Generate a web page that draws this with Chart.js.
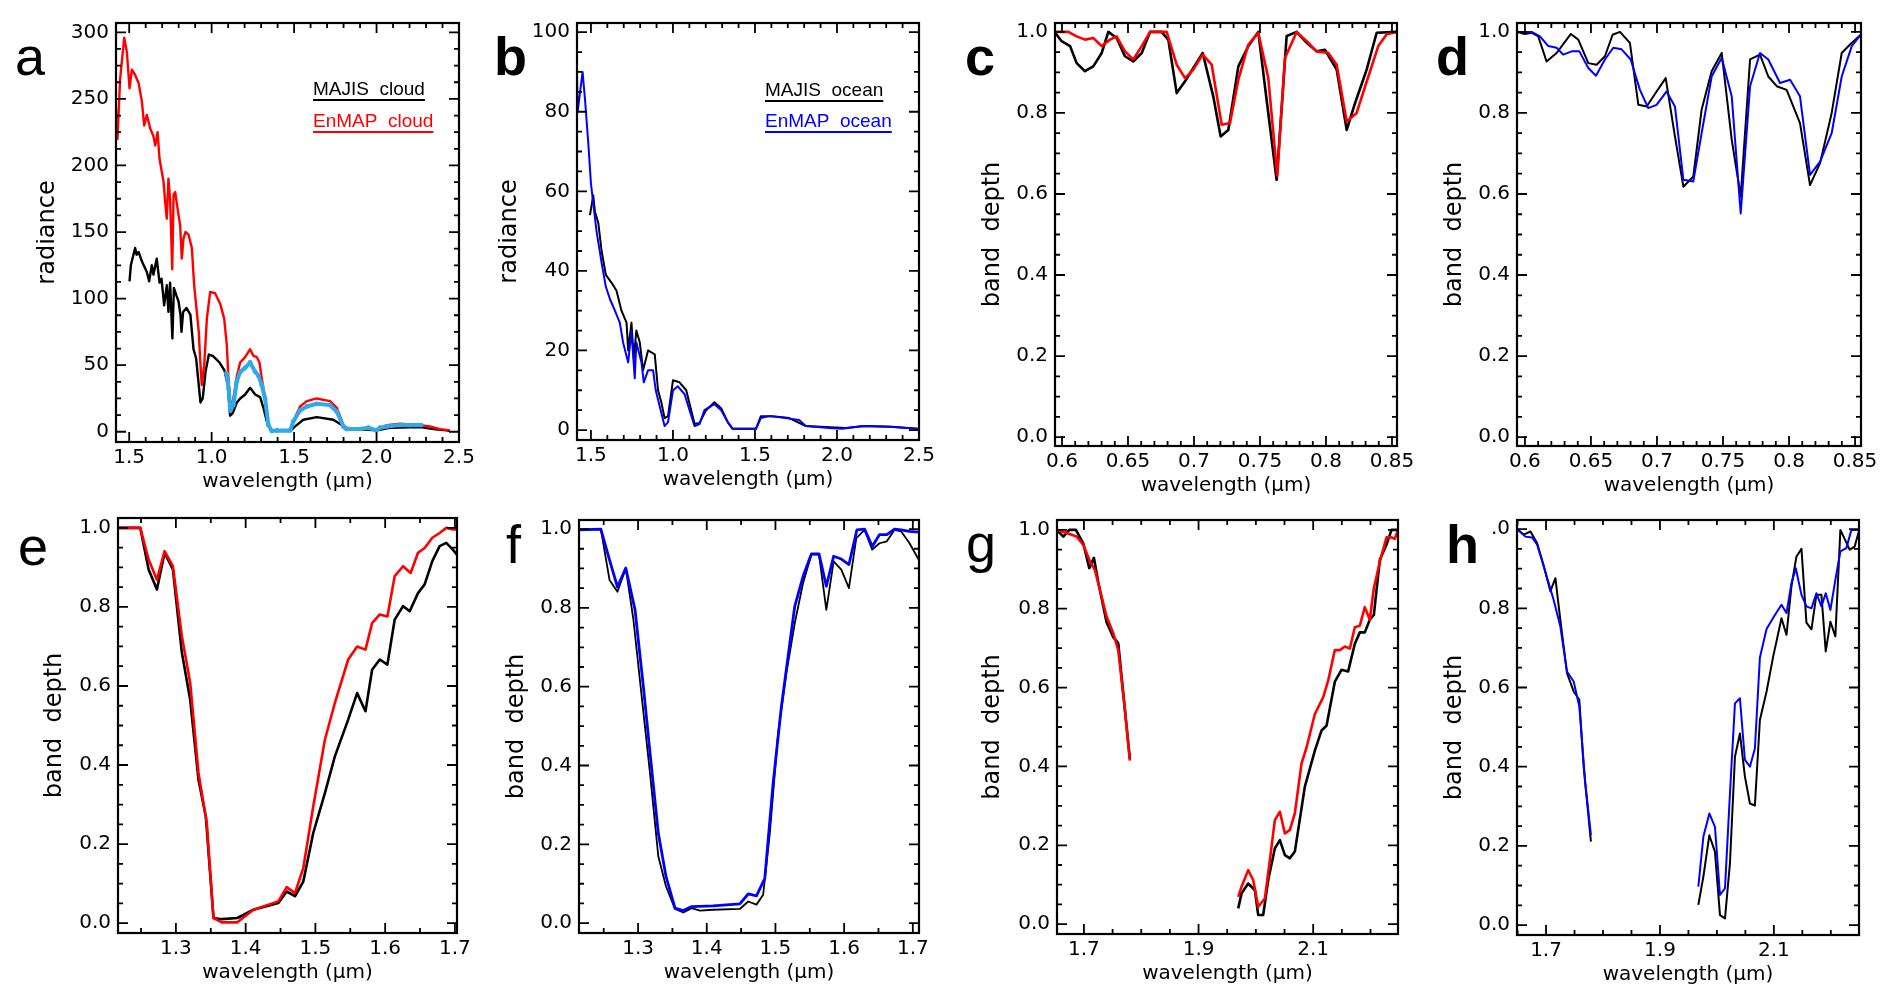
<!DOCTYPE html>
<html>
<head>
<meta charset="utf-8">
<script src="https://cdn.jsdelivr.net/npm/chart.js@4.4.1/dist/chart.umd.min.js"></script>
<style>
body { margin: 0; background: #fff; width: 1892px; height: 1003px; position: relative; overflow: hidden; }
canvas { position: absolute; }
.lbl { position: absolute; font-family: "Liberation Sans", Arial, sans-serif; font-size: 54px; line-height: 54px; color: #000; }
.bold { font-weight: bold; }
</style>
</head>
<body>
<div class="lbl" style="left:15px;top:29px">a</div>
<div class="lbl bold" style="left:494px;top:29px">b</div>
<div class="lbl bold" style="left:965px;top:29px">c</div>
<div class="lbl bold" style="left:1436px;top:29px">d</div>
<div class="lbl" style="left:18px;top:519px">e</div>
<div class="lbl" style="left:506px;top:517px">f</div>
<div class="lbl" style="left:966px;top:516px">g</div>
<div class="lbl bold" style="left:1446px;top:517px">h</div>
<script>
// ---- panel a : cloud radiance
var aMajisWl = [0.502,0.51,0.536,0.545,0.557,0.577,0.607,0.621,0.637,0.647,0.667,0.684,0.696,0.712,0.728,0.738,0.748,0.762,0.771,0.787,0.799,0.811,0.817,0.827,0.847,0.871,0.89,0.906,0.918,0.932,0.946,0.963,0.983,1.007,1.048,1.078,1.098,1.112,1.128,1.153,1.173,1.203,1.233,1.264,1.294,1.314,1.334,1.359,1.395,1.476,1.506,1.556,1.637,1.738,1.789,1.809,1.95,2.001,2.082,2.264,2.345,2.425,2.445];
var aMajisRad = [113,125,138,133,135,128,120,113,125,118,130,112,115,95,110,90,112,70,108,102,98,88,75,90,93,88,62,55,40,22,25,45,58,57,52,46,35,12,14,22,25,28,33,28,26,18,8,1,0.5,0.5,4,9,11,9,5,2,1.5,1,3,3.5,2,1,0.5];
var aEnmapWl = [0.419,0.429,0.445,0.47,0.486,0.502,0.516,0.536,0.557,0.577,0.591,0.607,0.627,0.647,0.658,0.672,0.684,0.698,0.708,0.72,0.728,0.738,0.748,0.761,0.769,0.779,0.793,0.809,0.819,0.829,0.841,0.86,0.88,0.894,0.91,0.922,0.93,0.94,0.955,0.971,0.991,1.021,1.052,1.076,1.092,1.104,1.112,1.132,1.153,1.173,1.203,1.233,1.254,1.274,1.29,1.304,1.324,1.344,1.359,1.395,1.476,1.496,1.536,1.577,1.637,1.718,1.759,1.799,1.819,1.9,2.001,2.062,2.142,2.264,2.324,2.385,2.445];
var aEnmapRad = [244,220,265,296,285,258,272,268,262,248,230,238,228,222,215,225,205,195,188,170,160,190,175,122,178,180,168,155,130,145,150,148,138,110,90,75,55,35,50,85,105,104,96,85,65,35,18,25,42,52,56,62,57,56,52,40,25,5,1,1,1,8,19,23,25,23,18,5,3,2,2,5,6,5,4,2,1];
var aSwirWl = [1.09,1.104,1.112,1.132,1.153,1.173,1.203,1.233,1.264,1.284,1.304,1.324,1.344,1.365,1.395,1.476,1.496,1.536,1.577,1.637,1.718,1.759,1.799,1.819,1.9,1.95,2.0,2.02,2.062,2.142,2.2,2.27];
var aSwirRad = [44,32,16,20,38,45,48,52,45,42,35,25,5,0.5,1,1,8,16,19,21,20,15,4,2,2,3,1,3,4,5,5,5];

// ---- panel b : ocean radiance
var bEnmapWl = [0.413,0.419,0.449,0.464,0.484,0.5,0.514,0.534,0.565,0.591,0.615,0.646,0.676,0.696,0.727,0.747,0.767,0.777,0.808,0.822,0.848,0.879,0.895,0.919,0.949,0.970,1.0,1.030,1.071,1.101,1.132,1.162,1.192,1.253,1.294,1.334,1.364,1.506,1.536,1.587,1.688,1.769,1.810,1.951,2.032,2.154,2.316,2.492];
var bEnmapRad = [94,80,90,83,72,62,57,50,42,36,33,30,27,22,17,25,13,22,17,12,15,15,10,6,1,2,10,11,9,5,1,1.5,5,6.5,5,2,0.3,0.3,3,3.5,3,2.5,1,0.5,0.3,1,0.8,0.3];
var bMajisWl = [0.494,0.514,0.524,0.545,0.565,0.591,0.626,0.656,0.686,0.717,0.727,0.747,0.761,0.777,0.798,0.818,0.848,0.889,0.909,0.929,0.949,0.970,1.0,1.040,1.081,1.105,1.132,1.162,1.202,1.253,1.294,1.334,1.364,1.506,1.536,1.607,1.709,1.810,2.053,2.174,2.336,2.492];
var bMajisRad = [54,59,55,52,45,39,37,35,30,27,20,27,18,25,22,15,20,19,10,7,3,3.5,12.5,12,10,6,1.5,1.8,5,7,5.5,2,0.3,0.3,3.5,3.5,3,1,0.5,1,0.8,0.3];

// ---- panel c : cloud band depth, 0.6-0.85 um
var cMajisWl = [0.5949,0.5997,0.6061,0.6111,0.6174,0.6237,0.6301,0.6351,0.6414,0.6477,0.654,0.6604,0.6667,0.6755,0.6806,0.6869,0.6932,0.6995,0.7066,0.7146,0.7202,0.726,0.7336,0.7412,0.7487,0.755,0.7626,0.7702,0.7778,0.7854,0.7929,0.7992,0.8081,0.8157,0.822,0.8308,0.8384,0.8535];
var cMajisBd = [0.998,0.977,0.965,0.923,0.903,0.915,0.948,1.0,0.985,0.94,0.927,0.948,1.0,1.0,0.98,0.849,0.878,0.911,0.948,0.841,0.742,0.758,0.915,0.965,1.0,0.833,0.635,0.99,1.0,0.973,0.952,0.956,0.907,0.758,0.824,0.907,0.998,1.0];
var cEnmapWl = [0.5949,0.6048,0.6111,0.6174,0.6237,0.6301,0.6364,0.6414,0.6477,0.654,0.6604,0.6667,0.6793,0.6869,0.6932,0.6995,0.7066,0.7134,0.721,0.7273,0.7336,0.7412,0.7487,0.7563,0.7601,0.7631,0.7689,0.7778,0.7854,0.7929,0.8018,0.8081,0.8157,0.8232,0.8321,0.8396,0.846,0.8535];
var cEnmapBd = [1.0,1.0,0.989,0.981,0.985,0.965,0.981,0.989,0.952,0.932,0.965,1.0,1.0,0.919,0.886,0.907,0.944,0.919,0.771,0.775,0.882,0.969,0.998,0.886,0.75,0.645,0.936,1.0,0.977,0.952,0.948,0.919,0.779,0.80,0.89,0.965,0.994,1.0];

// ---- panel d : ocean band depth, 0.6-0.85 um
var dMajisWl = [0.5944,0.6,0.6051,0.6101,0.6164,0.624,0.6348,0.6404,0.648,0.6543,0.6606,0.6664,0.672,0.6795,0.6859,0.6922,0.6997,0.7066,0.7136,0.72,0.7275,0.7338,0.7414,0.749,0.7566,0.7634,0.7705,0.778,0.7843,0.7907,0.7982,0.8083,0.8159,0.8235,0.8323,0.8399,0.8462,0.8543];
var dMajisBd = [1.0,0.995,0.998,0.989,0.927,0.948,0.995,0.981,0.923,0.919,0.94,0.993,1.0,0.973,0.82,0.816,0.853,0.886,0.742,0.618,0.643,0.808,0.903,0.948,0.734,0.594,0.932,0.944,0.89,0.866,0.857,0.775,0.622,0.676,0.80,0.948,0.969,0.993];
var dEnmapWl = [0.5944,0.6051,0.6114,0.6177,0.624,0.629,0.6354,0.6412,0.648,0.6538,0.6606,0.6669,0.6732,0.6801,0.6871,0.6934,0.6997,0.7073,0.7136,0.72,0.7275,0.7338,0.7414,0.749,0.7566,0.7634,0.7705,0.778,0.7843,0.7932,0.8008,0.8083,0.8159,0.8235,0.8323,0.8399,0.8475,0.8543];
var dEnmapBd = [1.0,1.0,0.989,0.965,0.961,0.944,0.952,0.952,0.911,0.892,0.932,0.961,0.957,0.932,0.857,0.812,0.82,0.853,0.816,0.635,0.631,0.75,0.89,0.936,0.841,0.552,0.866,0.948,0.932,0.874,0.882,0.841,0.647,0.68,0.75,0.89,0.965,0.993];

// ---- panel e : cloud band depth, 1.4 um
var eMajisWl = [1.2175,1.249,1.2609,1.2728,1.2838,1.2957,1.3086,1.3205,1.3324,1.3429,1.3539,1.3658,1.3882,1.4111,1.4468,1.4588,1.4707,1.4826,1.4969,1.5136,1.5279,1.547,1.5598,1.5718,1.5813,1.5923,1.6032,1.6137,1.6256,1.6352,1.6471,1.6566,1.6676,1.6781,1.6876,1.6971,1.7029];
var eMajisBd = [1.0,1.0,0.895,0.844,0.937,0.895,0.684,0.565,0.363,0.27,0.013,0.01,0.013,0.034,0.051,0.08,0.068,0.105,0.228,0.329,0.422,0.515,0.582,0.536,0.641,0.667,0.654,0.768,0.802,0.789,0.835,0.857,0.916,0.954,0.962,0.945,0.932];
var eEnmapWl = [1.2175,1.249,1.2609,1.2728,1.2838,1.2957,1.3086,1.3205,1.3324,1.3443,1.3539,1.3658,1.3882,1.4111,1.4468,1.4588,1.4707,1.4826,1.4969,1.5136,1.5279,1.547,1.5598,1.5718,1.5813,1.5923,1.6032,1.6137,1.6256,1.6366,1.6471,1.6566,1.6676,1.6781,1.6876,1.6971,1.7029];
var eEnmapBd = [1.0,1.0,0.92,0.869,0.941,0.903,0.726,0.608,0.38,0.253,0.013,0.002,0.002,0.034,0.055,0.091,0.076,0.139,0.295,0.464,0.557,0.667,0.70,0.692,0.759,0.781,0.776,0.878,0.903,0.886,0.937,0.949,0.975,0.987,1.0,0.996,0.996];

// ---- panel f : ocean band depth, 1.4 um
var fMajisWl = [1.2138,1.2458,1.2584,1.27,1.2821,1.2932,1.3053,1.3174,1.3295,1.3407,1.3538,1.3659,1.378,1.3901,1.4094,1.4482,1.4603,1.4724,1.4821,1.4918,1.5039,1.516,1.5281,1.5402,1.5523,1.5634,1.5741,1.5847,1.5959,1.607,1.6177,1.6298,1.6409,1.6516,1.6622,1.6734,1.6831,1.6952,1.7087];
var fMajisBd = [0.998,1.0,0.871,0.841,0.901,0.77,0.575,0.38,0.169,0.093,0.036,0.027,0.038,0.032,0.034,0.036,0.055,0.047,0.072,0.228,0.482,0.635,0.761,0.863,0.935,0.935,0.795,0.918,0.897,0.85,0.977,0.998,0.948,0.964,0.969,0.998,0.994,0.964,0.922];
var fEnmapWl = [1.2138,1.2458,1.2584,1.27,1.2821,1.2956,1.3077,1.3184,1.3295,1.3407,1.3538,1.3659,1.378,1.4094,1.4482,1.4603,1.4724,1.4845,1.4966,1.5087,1.5281,1.5402,1.5523,1.5634,1.5741,1.5847,1.5959,1.607,1.6186,1.6298,1.6409,1.6516,1.6622,1.6734,1.6831,1.6952,1.7087];
var fEnmapBd = [0.998,1.0,0.922,0.853,0.901,0.795,0.60,0.415,0.228,0.118,0.038,0.032,0.042,0.044,0.049,0.074,0.069,0.114,0.355,0.55,0.804,0.88,0.937,0.937,0.855,0.931,0.924,0.91,0.998,1.0,0.956,0.986,0.986,1.0,0.998,0.994,0.992];

// ---- panel g : cloud band depth, 1.9 um (null = no data)
var gMajisWl = [1.6523,1.664,1.6744,1.686,1.6988,1.7093,1.7174,1.725,1.7395,1.7512,1.7599,1.7686,1.7802,1.87,1.9692,1.975,1.9866,1.9983,2.0041,2.0128,2.0215,2.0331,2.0419,2.0506,2.0593,2.068,2.0855,2.1029,2.1145,2.1233,2.1378,2.1494,2.161,2.1727,2.1814,2.1901,2.1988,2.2058,2.2163,2.2279,2.2366,2.2471];
var gMajisBd = [1.0,0.983,1.0,1.0,0.966,0.903,0.929,0.867,0.766,0.728,0.712,0.585,0.419,null,0.04,0.078,0.103,0.086,0.023,0.023,0.112,0.192,0.213,0.175,0.167,0.184,0.349,0.44,0.491,0.503,0.615,0.645,0.641,0.711,0.74,0.74,0.772,0.784,0.924,0.962,1.0,1.0];
var gEnmapWl = [1.6523,1.6698,1.6872,1.6988,1.7105,1.7192,1.7279,1.7395,1.7512,1.7599,1.7698,1.7802,1.87,1.9692,1.975,1.9866,1.9953,2.0041,2.0157,2.0244,2.0331,2.0419,2.0506,2.0593,2.068,2.0797,2.0884,2.1029,2.1174,2.1262,2.1378,2.1465,2.1552,2.164,2.1727,2.1814,2.1901,2.1988,2.2058,2.2163,2.2279,2.2366,2.2424,2.2471];
var gEnmapBd = [1.0,0.992,0.983,0.962,0.92,0.898,0.848,0.78,0.738,0.694,0.567,0.415,null,0.069,0.095,0.137,0.112,0.044,0.065,0.162,0.264,0.285,0.23,0.239,0.281,0.408,0.448,0.533,0.575,0.618,0.695,0.695,0.704,0.699,0.753,0.757,0.804,0.772,0.852,0.919,0.981,0.981,0.977,0.996];

// ---- panel h : ocean band depth, 1.9 um
var hMajisWl = [1.6492,1.6609,1.6726,1.6842,1.6947,1.7076,1.7164,1.7251,1.7368,1.7485,1.7584,1.766,1.7788,1.87,1.9674,1.9762,1.9867,1.9966,2.0054,2.0142,2.0229,2.0317,2.0404,2.0492,2.058,2.0667,2.0755,2.0872,2.0988,2.1134,2.1222,2.131,2.1397,2.1485,2.1572,2.166,2.1747,2.1835,2.1911,2.1993,2.208,2.2168,2.2331,2.2419,2.2495];
var hMajisBd = [1.0,0.986,0.994,0.965,0.914,0.843,0.876,0.771,0.636,0.59,0.569,0.40,0.211,null,0.051,0.122,0.227,0.185,0.025,0.017,0.156,0.425,0.484,0.375,0.307,0.302,0.518,0.59,0.678,0.775,0.733,0.857,0.931,0.95,0.764,0.747,0.834,0.834,0.691,0.766,0.729,0.998,0.948,0.956,0.996];
var hEnmapWl = [1.6492,1.6638,1.6755,1.6842,1.6959,1.7134,1.7251,1.7368,1.7485,1.7584,1.7689,1.7788,1.87,1.9674,1.9762,1.9867,1.9966,2.0054,2.0142,2.0229,2.0317,2.0404,2.0492,2.058,2.0667,2.0755,2.0872,2.1018,2.1134,2.1222,2.131,2.1385,2.1485,2.1572,2.166,2.1747,2.1835,2.1911,2.1993,2.208,2.2168,2.2273,2.2361,2.2495];
var hEnmapBd = [1.0,0.981,0.979,0.961,0.906,0.821,0.754,0.64,0.615,0.552,0.358,0.227,null,0.097,0.223,0.282,0.248,0.076,0.093,0.332,0.56,0.573,0.417,0.40,0.446,0.676,0.748,0.783,0.809,0.788,0.864,0.901,0.834,0.805,0.80,0.838,0.805,0.838,0.796,0.872,0.944,0.952,0.998,0.998];

// ---- tick values / labels
var abTicks = [0.5, 1.0, 1.5, 2.0, 2.5];
var abTickLabels = ['1.5', '1.0', '1.5', '2.0', '2.5'];
var aYTicks = [0, 50, 100, 150, 200, 250, 300];
var aYLabels = ['0', '50', '100', '150', '200', '250', '300'];
var bYTicks = [0, 20, 40, 60, 80, 100];
var bYLabels = ['0', '20', '40', '60', '80', '100'];
var cdTicks = [0.6, 0.65, 0.7, 0.75, 0.8, 0.85];
var cdTickLabels = ['0.6', '0.65', '0.7', '0.75', '0.8', '0.85'];
var efTicks = [1.3, 1.4, 1.5, 1.6, 1.7];
var efTickLabels = ['1.3', '1.4', '1.5', '1.6', '1.7'];
var ghTicks = [1.7, 1.9, 2.1];
var ghTickLabels = ['1.7', '1.9', '2.1'];
var bdTicks = [0, 0.2, 0.4, 0.6, 0.8, 1.0];
var bdLabels = ['0.0', '0.2', '0.4', '0.6', '0.8', '1.0'];
var bdLabelsH = ['0.0', '0.2', '0.4', '0.6', '0.8', '.0'];

var RED = '#ff0000', BLUE = '#0000ff', BLACK = '#000000', CYAN = '#31a9e8';

function pts(xs, ys) {
    return xs.map(function (x, i) { return { x: x, y: ys[i] }; });
}

// IDL-style box with inward major/minor ticks, plus the underlined legend
var idlAxes = {
    id: 'idlAxes',
    afterDatasetsDraw: function (chart, args, opts) {
        var ctx = chart.ctx, ca = chart.chartArea;
        ctx.save();
        ctx.strokeStyle = '#000';
        ctx.lineWidth = 1.8;
        ctx.beginPath();
        [['x', opts.xMinor], ['y', opts.yMinor]].forEach(function (d) {
            var sc = chart.scales[d[0]], step = d[1];
            var majors = sc.ticks.map(function (t) { return t.value; });
            var marks = majors.map(function (v) { return [v, 10]; });
            for (var v = Math.ceil(sc.min / step - 1e-6) * step; v <= sc.max + 1e-9; v += step) {
                var isMajor = majors.some(function (m) { return Math.abs(m - v) < step * 0.05; });
                if (!isMajor) marks.push([v, 5]);
            }
            marks.forEach(function (m) {
                var p = sc.getPixelForValue(m[0]);
                if (d[0] === 'x') {
                    if (p < ca.left || p > ca.right) return;
                    ctx.moveTo(p, ca.bottom); ctx.lineTo(p, ca.bottom - m[1]);
                    ctx.moveTo(p, ca.top); ctx.lineTo(p, ca.top + m[1]);
                } else {
                    if (p < ca.top || p > ca.bottom) return;
                    ctx.moveTo(ca.left, p); ctx.lineTo(ca.left + m[1], p);
                    ctx.moveTo(ca.right, p); ctx.lineTo(ca.right - m[1], p);
                }
            });
        });
        ctx.stroke();
        ctx.lineWidth = 2.2;
        ctx.strokeRect(ca.left, ca.top, ca.right - ca.left, ca.bottom - ca.top);

        (opts.legend || []).forEach(function (it) {
            var x = it.x - opts.ox, y = it.y - opts.oy;
            ctx.font = '19px "Liberation Sans", Arial, sans-serif';
            ctx.fillStyle = it.color;
            ctx.textBaseline = 'alphabetic';
            ctx.fillText(it.text, x, y);
            var w = ctx.measureText(it.text).width;
            ctx.strokeStyle = it.color;
            ctx.lineWidth = 2;
            ctx.beginPath();
            ctx.moveTo(x, y + 5); ctx.lineTo(x + w, y + 5);
            ctx.stroke();
        });
        ctx.restore();
    }
};

var panels = [
    { frame: [116, 23, 459, 442], gap: 68, xr: [0.42, 2.5], yr: [-7.7, 307],
      xt: abTicks, xl: abTickLabels, xm: 0.1, yt: aYTicks, yl: aYLabels, ym: 12.5, ytitle: 'radiance',
      series: [[aSwirWl, aSwirRad, CYAN, 4, 2.4], [aEnmapWl, aEnmapRad, RED, 2.4], [aMajisWl, aMajisRad, BLACK, 2.4]],
      legend: [{ text: 'MAJIS  cloud', color: BLACK, x: 313, y: 95 }, { text: 'EnMAP  cloud', color: RED, x: 313, y: 127 }] },
    { frame: [577, 23, 919, 440], gap: 67, xr: [0.415, 2.5], yr: [-2.5, 102.3],
      xt: abTicks, xl: abTickLabels, xm: 0.1, yt: bYTicks, yl: bYLabels, ym: 5, ytitle: 'radiance',
      series: [[bEnmapWl, bEnmapRad, BLUE, 2], [bMajisWl, bMajisRad, BLACK, 2]],
      legend: [{ text: 'MAJIS  ocean', color: BLACK, x: 765, y: 96 }, { text: 'EnMAP  ocean', color: BLUE, x: 765, y: 127 }] },
    { frame: [1055, 23, 1397, 446], gap: 62, xr: [0.5947, 0.8538], yr: [-0.022, 1.022],
      xt: cdTicks, xl: cdTickLabels, xm: 0.01, yt: bdTicks, yl: bdLabels, ym: 0.05, ytitle: 'band  depth',
      series: [[cEnmapWl, cEnmapBd, RED, 2.6], [cMajisWl, cMajisBd, BLACK, 2.6]] },
    { frame: [1517, 23, 1861, 446], gap: 62, xr: [0.594, 0.8545], yr: [-0.022, 1.022],
      xt: cdTicks, xl: cdTickLabels, xm: 0.01, yt: bdTicks, yl: bdLabels, ym: 0.05, ytitle: 'band  depth',
      series: [[dEnmapWl, dEnmapBd, BLUE, 2], [dMajisWl, dMajisBd, BLACK, 2]] },
    { frame: [118, 518, 457, 933], gap: 63, xr: [1.217, 1.703], yr: [-0.025, 1.025],
      xt: efTicks, xl: efTickLabels, xm: 0.05, yt: bdTicks, yl: bdLabels, ym: 0.05, ytitle: 'band  depth',
      series: [[eEnmapWl, eEnmapBd, RED, 2.6], [eMajisWl, eMajisBd, BLACK, 2.6]] },
    { frame: [579, 520, 919, 933], gap: 62, xr: [1.214, 1.709], yr: [-0.025, 1.023],
      xt: efTicks, xl: efTickLabels, xm: 0.05, yt: bdTicks, yl: bdLabels, ym: 0.05, ytitle: 'band  depth',
      series: [[fEnmapWl, fEnmapBd, BLUE, 2.8], [fMajisWl, fMajisBd, BLACK, 1.8]] },
    { frame: [1057, 520, 1398, 934], gap: 64, xr: [1.653, 2.248], yr: [-0.025, 1.025],
      xt: ghTicks, xl: ghTickLabels, xm: 0.05, yt: bdTicks, yl: bdLabels, ym: 0.05, ytitle: 'band  depth',
      series: [[gEnmapWl, gEnmapBd, RED, 2.6], [gMajisWl, gMajisBd, BLACK, 2.6]] },
    { frame: [1517, 520, 1859, 935], gap: 62, xr: [1.649, 2.2495], yr: [-0.025, 1.023],
      xt: ghTicks, xl: ghTickLabels, xm: 0.05, yt: bdTicks, yl: bdLabelsH, ym: 0.05, ytitle: 'band  depth',
      series: [[hEnmapWl, hEnmapBd, BLUE, 2], [hMajisWl, hMajisBd, BLACK, 2]] }
];

var tickFont = { family: '"DejaVu Sans", sans-serif', size: 20, lineHeight: 1 };

panels.forEach(function (p) {
    var l = p.frame[0], t = p.frame[1], r = p.frame[2], b = p.frame[3];
    var yW = p.gap + 12, xH = 50;
    var padTop = 12, padRight = 34, padBottom = 8;
    var left = l - yW, top = t - padTop;
    var w = yW + (r - l) + padRight, h = padTop + (b - t) + xH + padBottom;

    var cv = document.createElement('canvas');
    cv.width = w; cv.height = h;
    cv.style.left = left + 'px'; cv.style.top = top + 'px';
    cv.style.width = w + 'px'; cv.style.height = h + 'px';
    document.body.appendChild(cv);

    var datasets = p.series.map(function (s) {
        return {
            data: pts(s[0], s[1]),
            borderColor: s[2],
            backgroundColor: s[2],
            borderWidth: s[3],
            pointRadius: s[4] || 0,
            pointBorderWidth: 0,
            tension: 0,
            spanGaps: false,
            borderJoinStyle: 'round'
        };
    });

    new Chart(cv.getContext('2d'), {
        type: 'line',
        data: { datasets: datasets },
        plugins: [idlAxes],
        options: {
            responsive: false,
            devicePixelRatio: 1,
            animation: false,
            events: [],
            layout: { padding: { left: 0, top: padTop, right: padRight, bottom: padBottom } },
            plugins: {
                legend: { display: false },
                tooltip: { enabled: false },
                idlAxes: { xMinor: p.xm, yMinor: p.ym, legend: p.legend || [], ox: left, oy: top }
            },
            scales: {
                x: {
                    type: 'linear',
                    min: p.xr[0], max: p.xr[1],
                    grid: { display: false, drawTicks: false },
                    border: { display: false },
                    afterBuildTicks: function (sc) { sc.ticks = p.xt.map(function (v) { return { value: v }; }); },
                    afterFit: function (sc) { sc.height = xH; sc.paddingLeft = 0; sc.paddingRight = 0; },
                    ticks: {
                        autoSkip: false, maxRotation: 0, padding: 6, color: '#000', font: tickFont,
                        callback: function (v, i) { return p.xl[i]; }
                    },
                    title: {
                        display: true, text: 'wavelength (μm)', color: '#000', padding: 0,
                        font: { family: '"DejaVu Sans", sans-serif', size: 20, lineHeight: 1 }
                    }
                },
                y: {
                    type: 'linear',
                    min: p.yr[0], max: p.yr[1],
                    grid: { display: false, drawTicks: false },
                    border: { display: false },
                    afterBuildTicks: function (sc) { sc.ticks = p.yt.map(function (v) { return { value: v }; }); },
                    afterFit: function (sc) { sc.width = yW; sc.paddingTop = 0; sc.paddingBottom = 0; },
                    ticks: {
                        autoSkip: false, padding: 7, color: '#000', font: tickFont,
                        callback: function (v, i) { return p.yl[i]; }
                    },
                    title: {
                        display: true, text: p.ytitle, color: '#000', padding: 0,
                        font: { family: '"DejaVu Sans", sans-serif', size: 24, lineHeight: 1 }
                    }
                }
            }
        }
    });
});
</script>
</body>
</html>
